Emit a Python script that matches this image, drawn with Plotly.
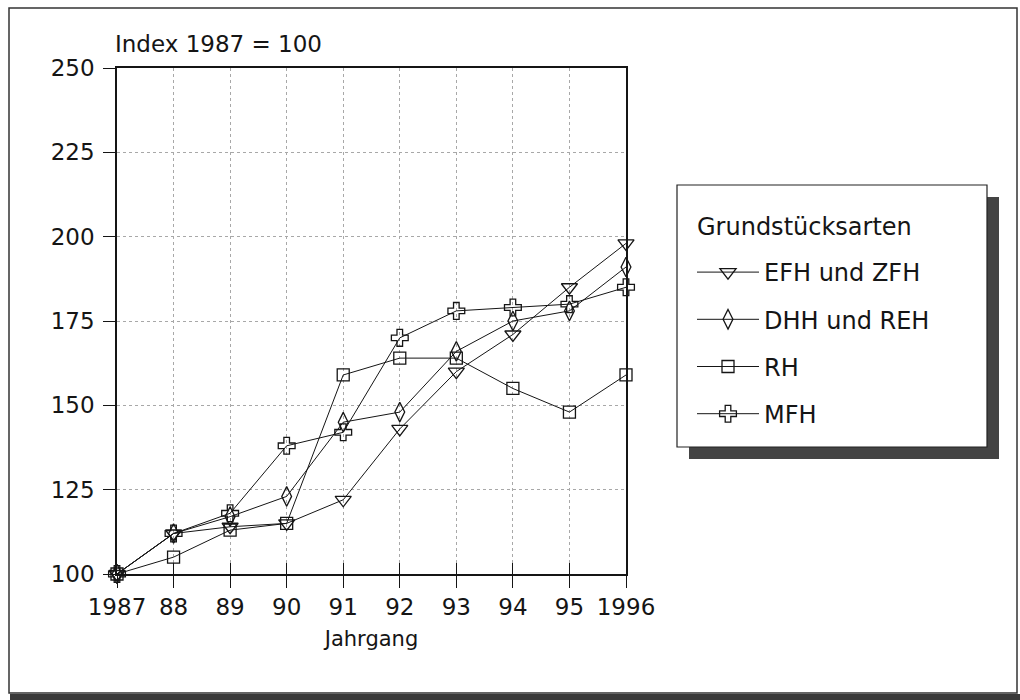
import plotly.graph_objects as go

years = [1987, 1988, 1989, 1990, 1991, 1992, 1993, 1994, 1995, 1996]
year_labels = ["1987", "88", "89", "90", "91", "92", "93", "94", "95", "1996"]
y_ticks = [100, 125, 150, 175, 200, 225, 250]

efh_zfh = [100, 112, 114, 115, 122, 143, 160, 171, 185, 198]
dhh_reh = [100, 112, 117, 123, 145, 148, 166, 175, 178, 191]
rh = [100, 105, 113, 115, 159, 164, 164, 155, 148, 159]
mfh = [100, 112, 118, 138, 142, 170, 178, 179, 180, 185]

series = [
    ("EFH und ZFH", efh_zfh, "triangle-down-open", 14),
    ("DHH und REH", dhh_reh, "diamond-tall-open", 14),
    ("RH", rh, "square-open", 12),
    ("MFH", mfh, "cross-open", 14),
]

FONT = "DejaVu Sans"
INK = "#151515"

W, H = 1020, 700
PL, PR, PT, PB = 117, 626, 68, 574  # plot area in pixels

def px(x):
    return (x - PL) / (PR - PL)

def py(y):
    return (PB - y) / (PB - PT)

fig = go.Figure()
for i, (name, vals, sym, size) in enumerate(series):
    fig.add_trace(go.Scatter(
        x=years, y=vals, name=name, mode="lines+markers",
        legendgroup=f"g{i}",
        line=dict(color=INK, width=1),
        marker=dict(symbol=sym, size=size, color=INK, line=dict(color=INK, width=1.3)),
        cliponaxis=False,
    ))

shapes = [
    # outer frame
    dict(type="rect", xref="paper", yref="paper", x0=px(9), x1=px(1017), y0=py(693), y1=py(8),
         line=dict(color="#333", width=1.5), layer="below"),
    # bottom dark band (scan shadow)
    dict(type="rect", xref="paper", yref="paper", x0=px(10), x1=px(1020), y0=py(700), y1=py(694),
         line=dict(width=0), fillcolor="#3a3a3a", layer="below"),
    # legend shadow
    dict(type="rect", xref="paper", yref="paper", x0=px(689), x1=px(999), y0=py(459), y1=py(197),
         line=dict(width=0), fillcolor="#444", layer="below"),
    # legend box
    dict(type="rect", xref="paper", yref="paper", x0=px(677), x1=px(987), y0=py(447), y1=py(185),
         line=dict(color="#222", width=1.2), fillcolor="white", layer="below"),
]

fig.update_layout(
    width=W, height=H,
    margin=dict(l=PL, r=W - PR, t=PT, b=H - PB, pad=0),
    paper_bgcolor="white", plot_bgcolor="rgba(0,0,0,0)",
    font=dict(family=FONT, size=23, color=INK),
    showlegend=True,
    legend=dict(
        x=px(692), y=py(250), xanchor="left", yanchor="top",
        bgcolor="rgba(0,0,0,0)", borderwidth=0,
        font=dict(family=FONT, size=24, color=INK),
        itemwidth=62, tracegroupgap=13,
    ),
    shapes=shapes,
    annotations=[
        dict(text="Index 1987 = 100", xref="paper", yref="paper",
             x=px(113), y=py(44), xanchor="left", yanchor="middle",
             showarrow=False, font=dict(family=FONT, size=23, color=INK)),
        dict(text="Grundstücksarten", xref="paper", yref="paper",
             x=px(695), y=py(227), xanchor="left", yanchor="middle",
             showarrow=False, font=dict(family=FONT, size=24, color=INK)),
    ],
    xaxis=dict(
        range=[1987, 1996], tickvals=years, ticktext=year_labels,
        showgrid=True, gridcolor="#a8a8a8", griddash="dot", gridwidth=1,
        showline=True, linecolor=INK, linewidth=1.5, mirror=True,
        ticks="outside", ticklen=12, tickcolor=INK, tickwidth=1.2,
        zeroline=False,
        title=dict(text="Jahrgang", font=dict(family=FONT, size=21, color=INK), standoff=12),
        tickfont=dict(family=FONT, size=23, color=INK),
    ),
    xaxis2=dict(
        range=[1987, 1996], tickvals=years, overlaying="x", anchor="y", side="bottom",
        ticks="inside", ticklen=11, tickcolor=INK, tickwidth=1.2,
        showticklabels=False, showgrid=False, showline=False, zeroline=False,
    ),
    yaxis=dict(
        range=[100, 250], tickvals=y_ticks,
        showgrid=True, gridcolor="#a8a8a8", griddash="dot", gridwidth=1,
        showline=True, linecolor=INK, linewidth=1.5, mirror=True,
        ticks="outside", ticklen=12, tickcolor=INK, tickwidth=1.2,
        zeroline=False, ticklabelstandoff=4,
        tickfont=dict(family=FONT, size=23, color=INK),
    ),
)
# invisible trace so the secondary x axis renders its inner ticks
fig.add_trace(go.Scatter(x=[years[0]], y=[y_ticks[0]], xaxis="x2", mode="markers",
                         marker=dict(opacity=0), showlegend=False, hoverinfo="skip"))

fig.write_html("out.html")
